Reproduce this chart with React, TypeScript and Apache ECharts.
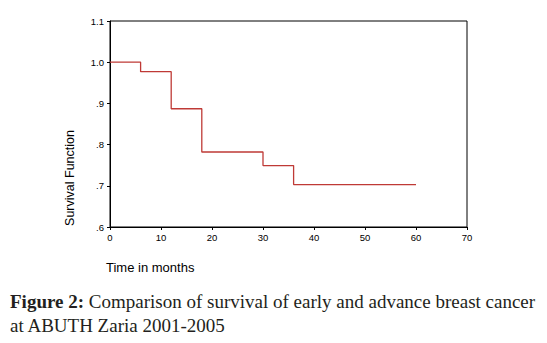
import React, { useEffect, useRef } from "react";
import * as echarts from "echarts";

const times = [0, 6, 12, 18, 30, 36, 60];
const survival = [1.0, 0.977, 0.887, 0.782, 0.749, 0.703, 0.703];
const yTickLabels: Record<string, string> = { "0.6": ".6", "0.7": ".7", "0.8": ".8", "0.9": ".9", "1": "1.0", "1.1": "1.1" };
const yTitle = "Survival Function";
const xTitle = "Time in months";
const captionBold = "Figure 2:";
const captionLine1 = " Comparison of survival of early and advance breast cancer";
const captionLine2 = "at ABUTH Zaria 2001-2005";

export default function App() {
  const ref = useRef<HTMLDivElement>(null);
  useEffect(() => {
    if (!ref.current) return;
    const chart = echarts.init(ref.current, undefined, { renderer: "svg" });
    const data = times.map((t, i) => [t, survival[i]]);
    chart.setOption({
      animation: false,
      backgroundColor: "#ffffff",
      grid: { left: 110, top: 21, width: 357, height: 206, show: true, borderColor: "#000", borderWidth: 1 },
      xAxis: {
        type: "value",
        min: 0,
        max: 70,
        interval: 10,
        splitLine: { show: false },
        axisLine: { show: true, onZero: false, lineStyle: { color: "#000", width: 1 } },
        axisTick: { show: true, length: 3, lineStyle: { color: "#000" } },
        axisLabel: { color: "#000", fontFamily: "Arial, Liberation Sans", fontSize: 9.5, margin: 5 },
      },
      yAxis: {
        type: "value",
        min: 0.6,
        max: 1.1,
        interval: 0.1,
        splitLine: { show: false },
        axisLine: { show: true, onZero: false, lineStyle: { color: "#000", width: 1 } },
        axisTick: { show: true, length: 3, lineStyle: { color: "#000" } },
        axisLabel: {
          color: "#000",
          fontFamily: "Arial, Liberation Sans",
          fontSize: 9.5,
          margin: 6,
          formatter: (v: number) => yTickLabels[String(Math.round(v * 10) / 10)] ?? String(v),
        },
      },
      series: [
        {
          type: "line",
          step: "end",
          data,
          symbol: "none",
          lineStyle: { color: "#bf3a36", width: 1.3 },
        },
      ],
      graphic: [
        {
          type: "text",
          x: 70,
          y: 178,
          rotation: Math.PI / 2,
          style: {
            text: yTitle,
            fill: "#000",
            font: "12.5px Arial, 'Liberation Sans'",
            align: "center",
            verticalAlign: "middle",
          },
        },
        {
          type: "text",
          x: 106,
          y: 267,
          style: {
            text: xTitle,
            fill: "#000",
            font: "13px Arial, 'Liberation Sans'",
            align: "left",
            verticalAlign: "middle",
          },
        },
        {
          type: "text",
          x: 10,
          y: 301,
          style: {
            text: "{b|" + captionBold + "}{n|" + captionLine1 + "}",
            verticalAlign: "middle",
            rich: {
              b: { font: "bold 19px 'Liberation Serif', serif", fill: "#231f20" },
              n: { font: "19px 'Liberation Serif', serif", fill: "#231f20" },
            },
          },
        },
        {
          type: "text",
          x: 10,
          y: 325,
          style: {
            text: captionLine2,
            font: "19px 'Liberation Serif', serif",
            fill: "#231f20",
            verticalAlign: "middle",
          },
        },
      ],
    });
    return () => chart.dispose();
  }, []);
  return <div ref={ref} style={{ position: "fixed", left: 0, top: 0, width: 547, height: 343 }} />;
}
